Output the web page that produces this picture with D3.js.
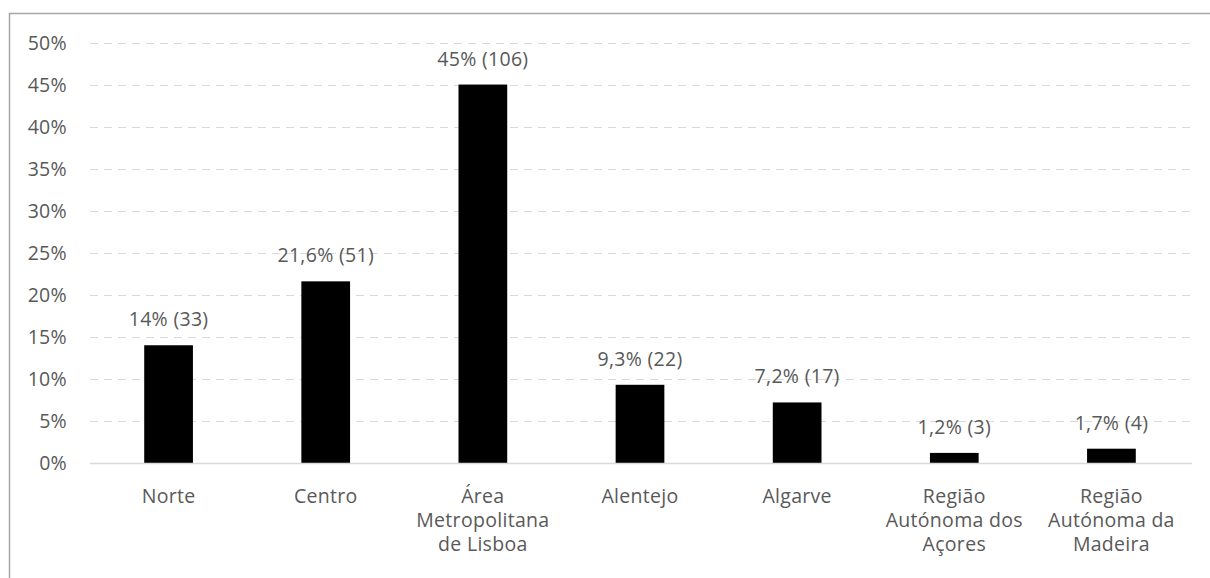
<!DOCTYPE html>
<html>
<head>
<meta charset="utf-8">
<script src="https://cdn.jsdelivr.net/npm/d3@7"></script>
<style>
  html, body { margin: 0; padding: 0; background: #fff; }
  svg text { font-family: "Open Sans", "Liberation Sans", sans-serif; fill: #595959; letter-spacing: 0.3px; }
</style>
</head>
<body>
<svg id="chart" width="1210" height="578"></svg>
<script>
// Regional distribution: share of respondents and absolute count
const regions = [
  ["Norte"],
  ["Centro"],
  ["Área", "Metropolitana", "de Lisboa"],
  ["Alentejo"],
  ["Algarve"],
  ["Região", "Autónoma dos", "Açores"],
  ["Região", "Autónoma da", "Madeira"]
];
const shares = [14, 21.6, 45, 9.3, 7.2, 1.2, 1.7];
const counts = [33, 51, 106, 22, 17, 3, 4];
const shareLabels = ["14%", "21,6%", "45%", "9,3%", "7,2%", "1,2%", "1,7%"];
const yTicks = [0, 5, 10, 15, 20, 25, 30, 35, 40, 45, 50];

const svg = d3.select("#chart");
const W = 1210, H = 578;
const FS = 19.5;

// Chart frame
svg.append("rect")
  .attr("x", 9.5).attr("y", 13.5)
  .attr("width", W + 10).attr("height", H + 10)
  .attr("fill", "none").attr("stroke", "#a6a6a6").attr("stroke-width", 1.5);

const x = d3.scaleBand()
  .domain(d3.range(regions.length))
  .range([90, 1190])
  .paddingInner(0.69).paddingOuter(0.345);

const y = d3.scaleLinear().domain([0, 50]).range([463, 42.5]);

// Dashed horizontal gridlines
svg.append("g").selectAll("line")
  .data(yTicks.filter(t => t > 0))
  .join("line")
  .attr("x1", 90).attr("x2", 1190)
  .attr("y1", d => Math.round(y(d)) + 0.5).attr("y2", d => Math.round(y(d)) + 0.5)
  .attr("stroke", "#d9d9d9").attr("stroke-width", 1.2)
  .attr("stroke-dasharray", "8,6");

// Y axis labels
const yAxis = d3.axisLeft(y).tickValues(yTicks).tickFormat(d => d + "%").tickSize(0).tickPadding(0);
const gy = svg.append("g").attr("transform", "translate(67,0)").call(yAxis);
gy.select(".domain").remove();
gy.selectAll("text").attr("font-size", FS).attr("fill", "#595959")
  .style("font-family", "'Open Sans', sans-serif").attr("dy", "0.35em");

// Bars
svg.append("g").selectAll("rect")
  .data(shares)
  .join("rect")
  .attr("x", (d, i) => x(i))
  .attr("width", x.bandwidth())
  .attr("y", d => y(d))
  .attr("height", d => y(0) - y(d))
  .attr("fill", "#000");

// Baseline
svg.append("line")
  .attr("x1", 90).attr("x2", 1192)
  .attr("y1", 463.5).attr("y2", 463.5)
  .attr("stroke", "#d9d9d9").attr("stroke-width", 1.5);

// Value labels
svg.append("g").selectAll("text")
  .data(shares)
  .join("text")
  .attr("x", (d, i) => x(i) + x.bandwidth() / 2)
  .attr("y", d => y(d) - 19)
  .attr("text-anchor", "middle")
  .attr("font-size", FS)
  .text((d, i) => `${shareLabels[i]} (${counts[i]})`);

// Category labels
const cat = svg.append("g").selectAll("text")
  .data(regions)
  .join("text")
  .attr("text-anchor", "middle")
  .attr("font-size", FS)
  .attr("x", (d, i) => x(i) + x.bandwidth() / 2)
  .attr("y", 503);
cat.selectAll("tspan")
  .data(d => d)
  .join("tspan")
  .attr("x", function () { return this.parentNode.getAttribute("x"); })
  .attr("dy", (d, j) => j === 0 ? 0 : 24)
  .text(d => d);
</script>
</body>
</html>
